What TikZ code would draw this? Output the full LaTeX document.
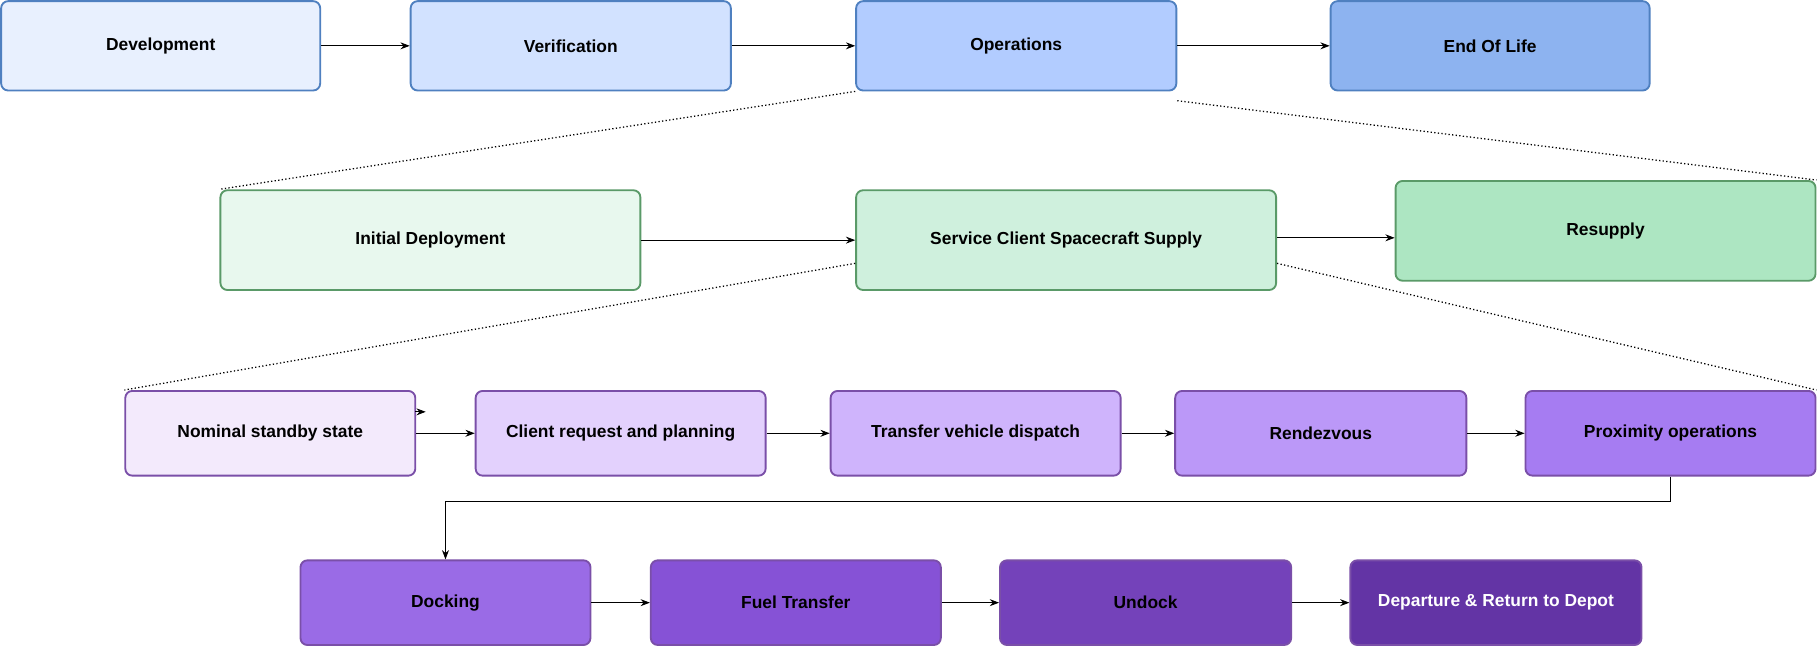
\documentclass[tikz,border=0pt]{standalone}
\usepackage{fontspec}
\setmainfont{Liberation Sans}
\usetikzlibrary{arrows.meta}
\definecolor{b1}{HTML}{E8F0FE}\definecolor{b2}{HTML}{D2E2FF}\definecolor{b3}{HTML}{B2CCFF}\definecolor{b4}{HTML}{8DB3F0}\definecolor{bb}{HTML}{4F80C0}
\definecolor{g1}{HTML}{E8F8EE}\definecolor{g2}{HTML}{CFF0DD}\definecolor{g3}{HTML}{ADE6C2}\definecolor{gb}{HTML}{5A9A68}
\definecolor{p1}{HTML}{F3EAFC}\definecolor{p2}{HTML}{E3D1FD}\definecolor{p3}{HTML}{CFB4FC}\definecolor{p4}{HTML}{BB98F8}\definecolor{p5}{HTML}{A67CF2}
\definecolor{p6}{HTML}{9A6BE6}\definecolor{p7}{HTML}{8652D6}\definecolor{p8}{HTML}{7442BA}\definecolor{p9}{HTML}{6334A5}\definecolor{pb}{HTML}{7A4FA8}
\begin{document}
\begin{tikzpicture}[x=1pt,y=-1pt,
 box/.style={draw,rounded corners=6pt,line width=1.6pt,font=\bfseries\fontsize{15}{18}\selectfont},
 arr/.style={-{Stealth[length=8pt,width=6pt]},line width=0.8pt},
 dot/.style={dotted,line width=1.1pt}]
\useasboundingbox (0,0) rectangle (1568,559);
\newcommand\bx[7]{\node[box,draw=#6,fill=#5,minimum width={#3-#2},minimum height={#4-#1}] (#7) at ({(#2+#3)/2},{(#1+#4)/2}) {};}
\newcommand\lb[2]{\node[font=\bfseries\fontsize{15}{18}\selectfont] at (#1) {#2};}
% row1
\bx{1}{1}{276}{78}{b1}{bb}{dev}\lb{dev}{Development}
\bx{1}{354}{630}{78}{b2}{bb}{ver}\lb{ver}{Verification}
\bx{1}{738}{1014}{78}{b3}{bb}{ops}\lb{ops}{Operations}
\bx{1}{1147}{1422}{78}{b4}{bb}{eol}\lb{eol}{End Of Life}
% row2
\bx{164}{190}{552}{250}{g1}{gb}{ini}\lb{ini}{Initial Deployment}
\bx{164}{738}{1100}{250}{g2}{gb}{svc}\lb{svc}{Service Client Spacecraft Supply}
\bx{156}{1203}{1565}{242}{g3}{gb}{res}\lb{res}{Resupply}
% row3
\bx{337}{108}{358}{410}{p1}{pb}{nom}\lb{nom}{Nominal standby state}
\bx{337}{410}{660}{410}{p2}{pb}{cli}\lb{cli}{Client request and planning}
\bx{337}{716}{966}{410}{p3}{pb}{tra}\lb{tra}{Transfer vehicle dispatch}
\bx{337}{1013}{1264}{410}{p4}{pb}{ren}\lb{ren}{Rendezvous}
\bx{337}{1315}{1565}{410}{p5}{pb}{pro}\lb{pro}{Proximity operations}
% row4
\bx{483}{259}{509}{556}{p6}{pb}{doc}\lb{doc}{Docking}
\bx{483}{561}{811}{556}{p7}{pb}{fue}\lb{fue}{Fuel Transfer}
\bx{483}{862}{1113}{556}{p8}{pb}{und}\lb{und}{Undock}
\bx{483}{1164}{1415}{556}{p9}{pb}{dep}\node[font=\bfseries\fontsize{15}{18}\selectfont,text=white] at (dep) {Departure \& Return to Depot};
% arrows
\draw[arr] (dev) -- (ver); \draw[arr] (ver) -- (ops); \draw[arr] (ops) -- (eol);
\draw[arr] (ini) -- (ini -| svc.west);
\draw[arr] (svc.east |- 0,205) -- (res.west |- 0,205);
\draw[arr] (nom) -- (cli); \draw[arr] (cli) -- (tra); \draw[arr] (tra) -- (ren); \draw[arr] (ren) -- (pro);
\coordinate (s1) at (358,355); \coordinate (s2) at (367,355);
\draw[arr] (s1) -- (s2);
\draw[arr] (pro.south -| 1440,0) -- (1440,432) -- (384,432) -- (doc.north);
\draw[arr] (doc) -- (fue); \draw[arr] (fue) -- (und); \draw[arr] (und) -- (dep);
% dotted
\draw[dot] (ops.south west) -- (ini.north west);
\draw[dot] ([yshift=-8pt]ops.south east) -- (res.north east);
\draw[dot] ([yshift=-20pt]svc.west) -- (nom.north west);
\draw[dot] ([yshift=-20pt]svc.east) -- (pro.north east);
\end{tikzpicture}
\end{document}
